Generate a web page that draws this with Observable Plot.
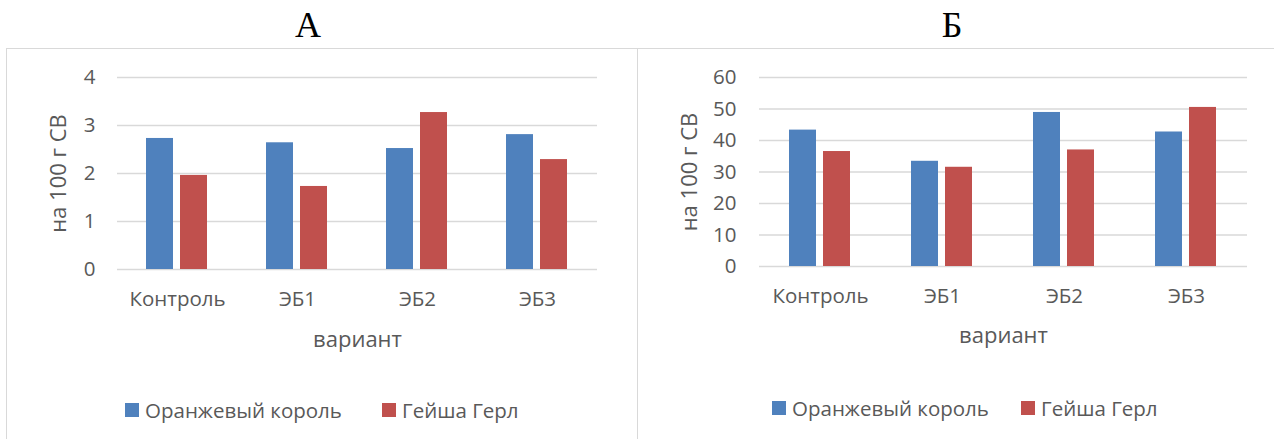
<!DOCTYPE html>
<html><head><meta charset="utf-8">
<script src="https://cdn.jsdelivr.net/npm/d3@7"></script>
<script src="https://cdn.jsdelivr.net/npm/@observablehq/plot@0.6"></script>
<style>
html,body{margin:0;padding:0;background:#fff;}
body{width:1274px;height:439px;overflow:hidden;position:relative;font-family:"Open Sans",sans-serif;}
.panel{position:absolute;top:48px;border-top:1px solid #D9D9D9;border-left:1px solid #D9D9D9;height:420px;box-sizing:border-box;}
.title{position:absolute;top:7px;font-family:"Liberation Serif","Times New Roman",serif;font-size:36px;line-height:37px;color:#000;transform:translateX(-50%);}
.chart{position:absolute;top:48px;}
.leg{position:absolute;display:flex;align-items:center;font-size:20.5px;color:#595959;white-space:nowrap;line-height:24px;transform:translateY(-50%);}
.sw{display:inline-block;width:14px;height:14px;margin-right:6px;}
</style></head><body>
<script>
const categories = ["Контроль", "ЭБ1", "ЭБ2", "ЭБ3"];
const seriesNames = ["Оранжевый король", "Гейша Герл"];
const seriesColors = ["#4F81BD", "#C0504D"];
const panelTitles = ["А", "Б"];
const valuesA_orange = [2.73, 2.64, 2.52, 2.81];
const valuesA_geisha = [1.96, 1.73, 3.27, 2.29];
const valuesB_orange = [43.3, 33.4, 48.9, 42.7];
const valuesB_geisha = [36.5, 31.5, 37.0, 50.5];
const ticksA = [0, 1, 2, 3, 4];
const ticksB = [0, 10, 20, 30, 40, 50, 60];
const yLabel = "на 100 г СВ";
const xLabel = "вариант";

function makeData(orange, geisha) {
  const rows = [];
  categories.forEach((c, i) => {
    rows.push({cat: c, series: seriesNames[0], value: orange[i]});
    rows.push({cat: c, series: seriesNames[1], value: geisha[i]});
  });
  return rows;
}

function chart(data, ticks, cfg) {
  return Plot.plot({
    width: cfg.width, height: 312,
    marginLeft: cfg.ml, marginRight: cfg.mr, marginTop: cfg.mt, marginBottom: cfg.mb,
    style: {fontFamily: '"Open Sans", sans-serif', fontSize: "20.5px", color: "#595959", background: "transparent", overflow: "visible"},
    fx: {domain: categories, padding: 0, label: null},
    x: {domain: seriesNames, paddingInner: 0.2, paddingOuter: 0.86, axis: null},
    y: {domain: [ticks[0], ticks[ticks.length - 1]]},
    color: {domain: seriesNames, range: seriesColors},
    marks: [
      Plot.ruleY(ticks, {stroke: "#D9D9D9", strokeWidth: 1.5}),
      Plot.barY(data, {fx: "cat", x: "series", y: "value", fill: "series"}),
      Plot.axisY(ticks, {tickSize: 0, tickPadding: cfg.tp, label: null}),
      Plot.axisY(ticks, {tickSize: 0, text: null, label: yLabel, labelAnchor: "center", labelArrow: "none", labelOffset: cfg.lo, fontSize: 22}),
      Plot.axisFx({anchor: "bottom", tickSize: 0, tickPadding: 22, label: null}),
      Plot.axisFx({anchor: "bottom", tickSize: 0, text: null, label: xLabel, labelAnchor: "center", labelArrow: "none", labelOffset: cfg.xlo, fontSize: 22})
    ]
  });
}

const panels = [
  {left: 6, width: 617, title: panelTitles[0], titleX: 308, data: makeData(valuesA_orange, valuesA_geisha), ticks: ticksA,
   cfg: {width: 617, ml: 110, mr: 26, mt: 29, mb: 91, tp: 22, lo: 67, xlo: 77}, legX: [125, 382], legY: 410},
  {left: 637, width: 637, title: panelTitles[1], titleX: 952, data: makeData(valuesB_orange, valuesB_geisha), ticks: ticksB,
   cfg: {width: 637, ml: 120, mr: 26, mt: 29, mb: 94, tp: 23, lo: 78, xlo: 76}, legX: [772, 1021], legY: 408}
];

for (const p of panels) {
  const box = document.createElement("div");
  box.className = "panel";
  box.style.left = p.left + "px";
  box.style.width = (p.width + 40) + "px";
  document.body.appendChild(box);

  const t = document.createElement("div");
  t.className = "title";
  t.style.left = p.titleX + "px";
  t.textContent = p.title;
  document.body.appendChild(t);

  const holder = document.createElement("div");
  holder.className = "chart";
  holder.style.left = p.left + "px";
  holder.appendChild(chart(p.data, p.ticks, p.cfg));
  document.body.appendChild(holder);

  seriesNames.forEach((name, i) => {
    const item = document.createElement("div");
    item.className = "leg";
    item.style.left = p.legX[i] + "px";
    item.style.top = p.legY + "px";
    const sw = document.createElement("span");
    sw.className = "sw";
    sw.style.background = seriesColors[i];
    item.appendChild(sw);
    item.appendChild(document.createTextNode(name));
    document.body.appendChild(item);
  });
}
</script>
</body></html>
